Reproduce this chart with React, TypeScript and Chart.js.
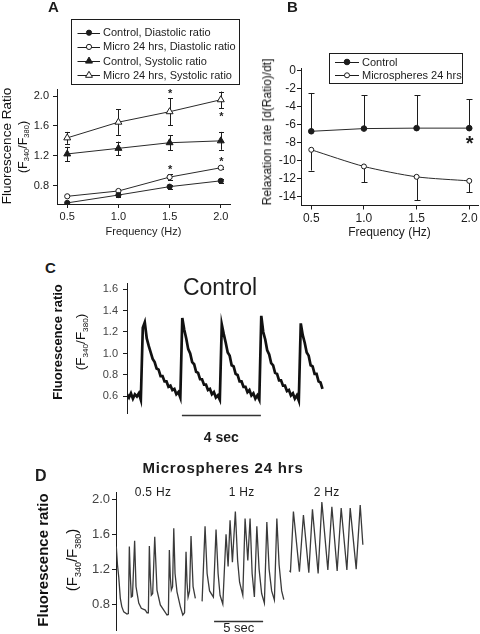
import React, { useEffect, useRef } from "react";
import { Chart, registerables } from "chart.js";
Chart.register(...registerables);

const FONT = "'Liberation Sans', Arial, Helvetica, sans-serif";
const INK = "#1c1c1c";

// ---------------- Panel A ----------------
const A_FREQ = [0.5, 1.0, 1.5, 2.0];
const A_X_TICKS = [0.5, 1.0, 1.5, 2.0];
const A_Y_TICKS = [0.8, 1.2, 1.6, 2.0];
const A_CTRL_DIA = [0.57, 0.675, 0.787, 0.865];
const A_CTRL_DIA_SEM = [0.015, 0.02, 0.025, 0.03];
const A_MICRO_DIA = [0.658, 0.729, 0.915, 1.04];
const A_MICRO_DIA_SEM = [0.01, 0.015, 0.04, 0.015];
const A_CTRL_SYS = [1.225, 1.3, 1.375, 1.4];
const A_CTRL_SYS_SEM = [0.095, 0.09, 0.1, 0.12];
const A_MICRO_SYS = [1.44, 1.65, 1.79, 1.95];
const A_MICRO_SYS_SEM = [0.08, 0.17, 0.18, 0.11];
const A_LABELS = [
  "Control, Diastolic ratio",
  "Micro 24 hrs, Diastolic ratio",
  "Control, Systolic ratio",
  "Micro 24 hrs, Systolic ratio",
];
const A_STAR_X = [1.5, 2.0, 1.5, 2.0];
const A_STAR_Y = [2.065, 1.765, 1.05, 1.16];

// ---------------- Panel B ----------------
const B_FREQ = [0.5, 1.0, 1.5, 2.0];
const B_X_TICKS = [0.5, 1.0, 1.5, 2.0];
const B_Y_TICKS = [0, -2, -4, -6, -8, -10, -12, -14];
const B_CTRL = [-6.75, -6.45, -6.4, -6.4];
const B_CTRL_ERR_TOP = [-2.5, -2.75, -2.75, -3.2];
const B_MICRO = [-8.8, -10.65, -11.8, -12.25];
const B_MICRO_ERR_BOTTOM = [-11.1, -12.4, -14.4, -13.5];
const B_LABELS = ["Control", "Microspheres 24 hrs"];
const B_STAR_X = [2.0];
const B_STAR_Y = [-7.6];

// ---------------- Panel C (control trace, 0.1 s samples) ----------------
const C_Y_TICKS = [0.6, 0.8, 1.0, 1.2, 1.4, 1.6];
const C_DT = 0.1;
const C_RATIO = [
  0.62, 0.59, 0.63, 0.58, 0.62, 0.6, 0.63, 0.57,
  1.24, 1.29, 1.14, 1.07, 1.01, 0.95, 0.92, 0.86, 0.85, 0.79, 0.79, 0.74, 0.74, 0.69, 0.7, 0.66, 0.67, 0.62, 0.64, 0.59,
  1.33, 1.22, 1.14, 1.04, 1.0, 0.92, 0.9, 0.83, 0.82, 0.76, 0.76, 0.71, 0.71, 0.66, 0.67, 0.62, 0.64, 0.59, 0.61, 0.57,
  1.27, 1.18, 1.1, 1.01, 0.98, 0.89, 0.88, 0.81, 0.8, 0.74, 0.74, 0.69, 0.69, 0.64, 0.66, 0.61, 0.63, 0.58, 0.61, 0.57,
  1.35, 1.2, 1.13, 1.03, 0.99, 0.91, 0.89, 0.82, 0.81, 0.75, 0.75, 0.7, 0.7, 0.65, 0.66, 0.61, 0.63, 0.58, 0.61, 0.56,
  1.28, 1.17, 1.1, 1.01, 0.98, 0.89, 0.88, 0.81, 0.81, 0.74, 0.73, 0.67,
];
const C_X_MAX = 10.28;
const C_BAR_START = 2.78;
const C_BAR_LEN = 4;

// ---------------- Panel D (microspheres trace, seconds) ----------------
const D_Y_TICKS = [0.8, 1.2, 1.6, 2.0];
const D_SEG1_T = [0.03, 0.15, 0.28, 0.44, 0.59, 0.79, 1.12, 1.26, 1.36, 1.45, 1.56, 1.68, 1.9, 2.04, 2.32, 2.58, 2.99, 3.16, 3.3, 3.4, 3.5, 3.6, 3.74, 3.95, 4.18, 4.52, 4.87, 5.2, 5.34, 5.44, 5.54, 5.64, 5.77, 5.89, 6.02, 6.22, 6.56, 6.81, 6.99, 7.14, 7.24, 7.35, 7.5, 7.65, 7.86, 8.09];
const D_SEG1_V = [1.46, 1.25, 1.11, 0.865, 0.77, 0.71, 0.685, 0.69, 1.46, 1.15, 0.88, 0.89, 1.525, 1.0, 0.81, 0.75, 0.73, 0.7, 0.7, 1.465, 1.1, 0.9, 0.92, 1.57, 0.96, 0.79, 0.73, 0.674, 0.68, 1.42, 1.1, 0.96, 1.0, 1.668, 1.15, 0.94, 0.77, 0.674, 0.7, 1.4, 1.05, 0.88, 0.95, 1.58, 1.0, 0.865];
const D_SEG2_T = [8.78, 9.08, 9.29, 9.54, 9.93, 10.2, 10.41, 10.61, 10.89, 11.22, 11.43, 11.63, 11.87, 12.17, 12.4, 12.6, 12.93, 13.16, 13.44, 13.67, 13.88, 14.11, 14.36, 14.59, 14.85, 15.13, 15.38, 15.61, 15.87, 16.15, 16.4, 16.63, 16.89, 17.11];
const D_SEG2_V = [0.83, 1.69, 1.15, 0.95, 0.88, 1.655, 1.15, 0.9, 0.8, 1.6, 1.23, 1.76, 1.28, 1.86, 1.3, 1.05, 0.9, 1.78, 1.3, 1.78, 1.15, 0.88, 1.69, 1.2, 0.92, 0.81, 1.74, 1.2, 0.95, 0.846, 1.78, 1.25, 0.95, 0.85];
const D_SEG3_T = [17.68, 17.79, 18.09, 18.7, 19.11, 19.66, 20.03, 20.61, 20.99, 21.6, 22.01, 22.55, 22.96, 23.54, 23.88, 24.49, 24.9, 25.17];
const D_SEG3_V = [1.18, 1.17, 1.86, 1.17, 1.82, 1.16, 1.885, 1.15, 1.97, 1.19, 1.915, 1.18, 1.9, 1.19, 1.9, 1.2, 1.935, 1.48];
const D_X_MAX = 26;
const D_BAR_START = 10;
const D_BAR_LEN = 5;

// ---------------- helpers ----------------
const pts = (xs: number[], ys: number[]) => xs.map((x, i) => ({ x, y: ys[i] }));

function drawMarker(ctx: CanvasRenderingContext2D, style: string, filled: boolean, x: number, y: number, r: number) {
  ctx.beginPath();
  if (style === "triangle") {
    let rad = 0;
    ctx.moveTo(x + Math.sin(rad) * r, y - Math.cos(rad) * r);
    rad += (2 * Math.PI) / 3;
    ctx.lineTo(x + Math.sin(rad) * r, y - Math.cos(rad) * r);
    rad += (2 * Math.PI) / 3;
    ctx.lineTo(x + Math.sin(rad) * r, y - Math.cos(rad) * r);
    ctx.closePath();
  } else {
    ctx.arc(x, y, r, 0, Math.PI * 2);
  }
  ctx.fillStyle = filled ? INK : "#fff";
  ctx.fill();
  ctx.strokeStyle = INK;
  ctx.lineWidth = 1;
  ctx.stroke();
}

type Entry = { label: string; style: string; filled: boolean; r: number };
function boxLegend(box: { x: number; y: number; w: number; h: number; y0: number; dy: number; l0: number; l1: number; mx: number; tx: number; size: number }, entries: Entry[]) {
  return {
    id: "boxLegend",
    afterDraw(chart: any) {
      const ctx = chart.ctx as CanvasRenderingContext2D;
      ctx.save();
      ctx.fillStyle = "#fff";
      ctx.fillRect(box.x, box.y, box.w, box.h);
      ctx.strokeStyle = INK;
      ctx.lineWidth = 1;
      ctx.strokeRect(box.x + 0.5, box.y + 0.5, box.w, box.h);
      entries.forEach((e, i) => {
        const y = box.y0 + i * box.dy;
        ctx.beginPath();
        ctx.strokeStyle = INK;
        ctx.lineWidth = 1;
        ctx.moveTo(box.l0, Math.round(y) + 0.5);
        ctx.lineTo(box.l1, Math.round(y) + 0.5);
        ctx.stroke();
        drawMarker(ctx, e.style, e.filled, box.mx, y, e.r);
        ctx.fillStyle = INK;
        ctx.font = `${box.size}px ${FONT}`;
        ctx.textBaseline = "middle";
        ctx.textAlign = "left";
        ctx.fillText(e.label, box.tx, y + 0.5);
      });
      ctx.restore();
    },
  };
}

type ErrSpec = { xs: number[]; lo: number[]; hi: number[]; capLo: boolean; capHi: boolean };
function errorBars(specs: ErrSpec[], capHalf: number) {
  return {
    id: "errorBars",
    beforeDatasetsDraw(chart: any) {
      const { ctx, scales } = chart;
      const sx = scales.x, sy = scales.y;
      ctx.save();
      ctx.strokeStyle = INK;
      ctx.lineWidth = 1;
      specs.forEach((s) =>
        s.xs.forEach((xv, i) => {
          const px = Math.round(sx.getPixelForValue(xv)) + 0.5;
          const y0 = sy.getPixelForValue(s.lo[i]);
          const y1 = sy.getPixelForValue(s.hi[i]);
          ctx.beginPath();
          ctx.moveTo(px, y0);
          ctx.lineTo(px, y1);
          if (s.capLo) {
            ctx.moveTo(px - capHalf, Math.round(y0) + 0.5);
            ctx.lineTo(px + capHalf, Math.round(y0) + 0.5);
          }
          if (s.capHi) {
            ctx.moveTo(px - capHalf, Math.round(y1) + 0.5);
            ctx.lineTo(px + capHalf, Math.round(y1) + 0.5);
          }
          ctx.stroke();
        })
      );
      ctx.restore();
    },
  };
}

function stars(xs: number[], ys: number[], size: number) {
  return {
    id: "stars",
    afterDatasetsDraw(chart: any) {
      const { ctx, scales } = chart;
      ctx.save();
      ctx.fillStyle = INK;
      ctx.font = `bold ${size}px ${FONT}`;
      ctx.textAlign = "center";
      ctx.textBaseline = "alphabetic";
      xs.forEach((xv, i) => {
        const px = scales.x.getPixelForValue(xv);
        const py = scales.y.getPixelForValue(ys[i]);
        ctx.fillText("*", px + 0.5, py + size * 0.57);
      });
      ctx.restore();
    },
  };
}

function scaleBar(start: number, len: number, dyFromBottom: number) {
  return {
    id: "scaleBar",
    afterDraw(chart: any) {
      const { ctx, chartArea, scales } = chart;
      const x0 = scales.x.getPixelForValue(start);
      const x1 = scales.x.getPixelForValue(start + len);
      const y = Math.round(chartArea.bottom + dyFromBottom) + 0.5;
      ctx.save();
      ctx.strokeStyle = "#333";
      ctx.lineWidth = 1.4;
      ctx.beginPath();
      ctx.moveTo(x0, y);
      ctx.lineTo(x1, y);
      ctx.stroke();
      ctx.restore();
    },
  };
}

function axis(o: {
  min: number; max: number; ticks: number[]; fmt: (v: number) => string; size: number;
  w?: number; h?: number; title?: string; titleSize?: number; pad: number; display?: boolean; color?: string;
}) {
  return {
    type: "linear",
    display: o.display !== false,
    min: o.min,
    max: o.max,
    afterBuildTicks: (s: any) => {
      s.ticks = o.ticks.map((v) => ({ value: v }));
    },
    afterFit: (s: any) => {
      if (o.w !== undefined) s.width = o.w;
      if (o.h !== undefined) s.height = o.h;
    },
    grid: { display: true, drawOnChartArea: false, drawTicks: true, tickLength: 4, color: INK, lineWidth: 1 },
    border: { display: true, color: INK, width: 1 },
    ticks: {
      autoSkip: false,
      maxRotation: 0,
      padding: o.pad,
      color: o.color || INK,
      font: { family: FONT, size: o.size },
      callback: (v: any) => o.fmt(Number(v)),
    },
    title: o.title
      ? { display: true, text: o.title, color: INK, padding: 0, font: { family: FONT, size: o.titleSize || o.size } }
      : { display: false },
  };
}

const base = (padding: any) => ({
  responsive: false,
  maintainAspectRatio: false,
  animation: false,
  devicePixelRatio: 1,
  events: [],
  layout: { padding },
  plugins: { legend: { display: false }, tooltip: { enabled: false } },
});

const f1 = (v: number) => v.toFixed(1);

function Txt(p: { x: number; y: number; size: number; bold?: boolean; center?: boolean; spacing?: number; children: React.ReactNode }) {
  return (
    <div
      style={{
        position: "absolute",
        left: p.x,
        top: p.y - 0.8465 * p.size,
        fontFamily: FONT,
        fontSize: p.size,
        fontWeight: p.bold ? 700 : 400,
        lineHeight: 1,
        whiteSpace: "nowrap",
        letterSpacing: p.spacing || 0,
        color: INK,
        transform: p.center ? "translateX(-50%)" : undefined,
      }}
    >
      {p.children}
    </div>
  );
}

function RotTxt(p: { cx: number; cy: number; size: number; bold?: boolean; children: React.ReactNode }) {
  return (
    <div
      style={{
        position: "absolute",
        left: p.cx,
        top: p.cy,
        transform: "translate(-50%,-50%) rotate(-90deg)",
        fontFamily: FONT,
        fontSize: p.size,
        fontWeight: p.bold ? 700 : 400,
        lineHeight: 1.15,
        whiteSpace: "nowrap",
        color: "#111",
      }}
    >
      {p.children}
    </div>
  );
}

const Sub = ({ children }: { children: React.ReactNode }) => (
  <sub style={{ fontSize: "0.6em", verticalAlign: "-0.35em", lineHeight: 0 }}>{children}</sub>
);

const Ratio = () => (
  <>
    (F<Sub>340</Sub>/F<Sub>380</Sub>)
  </>
);

export default function App() {
  const aRef = useRef<HTMLCanvasElement>(null);
  const bRef = useRef<HTMLCanvasElement>(null);
  const cRef = useRef<HTMLCanvasElement>(null);
  const dRef = useRef<HTMLCanvasElement>(null);

  useEffect(() => {
    const lineStyle = { borderColor: "#2a2a2a", borderWidth: 1, pointBorderColor: INK, pointBorderWidth: 1, tension: 0 };

    // ---- A ----
    const chartA = new Chart(aRef.current!, {
      type: "line",
      data: {
        datasets: [
          { ...lineStyle, label: A_LABELS[0], data: pts(A_FREQ, A_CTRL_DIA), pointStyle: "circle", pointRadius: 2.6, pointBackgroundColor: INK },
          { ...lineStyle, label: A_LABELS[1], data: pts(A_FREQ, A_MICRO_DIA), pointStyle: "circle", pointRadius: 2.6, pointBackgroundColor: "#fff" },
          { ...lineStyle, label: A_LABELS[2], data: pts(A_FREQ, A_CTRL_SYS), pointStyle: "triangle", pointRadius: 4, pointBackgroundColor: INK },
          { ...lineStyle, label: A_LABELS[3], data: pts(A_FREQ, A_MICRO_SYS), pointStyle: "triangle", pointRadius: 4, pointBackgroundColor: "#fff" },
        ],
      } as any,
      options: {
        ...base({ top: 89, right: 12, left: 0, bottom: 0 }),
        scales: {
          x: axis({ min: 0.4, max: 2.09, ticks: A_X_TICKS, fmt: f1, size: 11, h: 35, title: "Frequency (Hz)", pad: 2 }),
          y: axis({ min: 0.555, max: 2.094, ticks: A_Y_TICKS, fmt: f1, size: 11, w: 57, pad: 4 }),
        },
      } as any,
      plugins: [
        errorBars(
          [
            { xs: A_FREQ, lo: A_CTRL_DIA.map((v, i) => v - A_CTRL_DIA_SEM[i]), hi: A_CTRL_DIA.map((v, i) => v + A_CTRL_DIA_SEM[i]), capLo: true, capHi: true },
            { xs: A_FREQ, lo: A_MICRO_DIA.map((v, i) => v - A_MICRO_DIA_SEM[i]), hi: A_MICRO_DIA.map((v, i) => v + A_MICRO_DIA_SEM[i]), capLo: true, capHi: true },
            { xs: A_FREQ, lo: A_CTRL_SYS.map((v, i) => v - A_CTRL_SYS_SEM[i]), hi: A_CTRL_SYS.map((v, i) => v + A_CTRL_SYS_SEM[i]), capLo: true, capHi: true },
            { xs: A_FREQ, lo: A_MICRO_SYS.map((v, i) => v - A_MICRO_SYS_SEM[i]), hi: A_MICRO_SYS.map((v, i) => v + A_MICRO_SYS_SEM[i]), capLo: true, capHi: true },
          ],
          2.5
        ),
        stars(A_STAR_X, A_STAR_Y, 11),
        boxLegend(
          { x: 71, y: 19, w: 168, h: 65, y0: 32.7, dy: 14.2, l0: 77.5, l1: 100, mx: 89, tx: 103, size: 11 },
          [
            { label: A_LABELS[0], style: "circle", filled: true, r: 2.6 },
            { label: A_LABELS[1], style: "circle", filled: false, r: 2.6 },
            { label: A_LABELS[2], style: "triangle", filled: true, r: 4 },
            { label: A_LABELS[3], style: "triangle", filled: false, r: 4 },
          ]
        ),
      ],
    });

    // ---- B ----
    const chartB = new Chart(bRef.current!, {
      type: "line",
      data: {
        datasets: [
          { ...lineStyle, label: B_LABELS[0], data: pts(B_FREQ, B_CTRL), pointStyle: "circle", pointRadius: 2.8, pointBackgroundColor: INK },
          { ...lineStyle, tension: 0.25, label: B_LABELS[1], data: pts(B_FREQ, B_MICRO), pointStyle: "circle", pointRadius: 2.5, pointBackgroundColor: "#fff" },
        ],
      } as any,
      options: {
        ...base({ top: 68, right: 12, left: 0, bottom: 0 }),
        scales: {
          x: axis({ min: 0.4025, max: 2.083, ticks: B_X_TICKS, fmt: f1, size: 12, h: 34.5, title: "Frequency (Hz)", pad: 2 }),
          y: axis({ min: -14.98, max: 0.27, ticks: B_Y_TICKS, fmt: (v) => String(v), size: 12, w: 61, pad: 1 }),
        },
      } as any,
      plugins: [
        errorBars(
          [
            { xs: B_FREQ, lo: B_CTRL, hi: B_CTRL_ERR_TOP, capLo: false, capHi: true },
            { xs: B_FREQ, lo: B_MICRO_ERR_BOTTOM, hi: B_MICRO, capLo: true, capHi: false },
          ],
          3
        ),
        stars(B_STAR_X, B_STAR_Y, 20),
        boxLegend(
          { x: 89, y: 53, w: 133, h: 30, y0: 62, dy: 13.3, l0: 95, l1: 119, mx: 107, tx: 122, size: 11 },
          [
            { label: B_LABELS[0], style: "circle", filled: true, r: 2.8 },
            { label: B_LABELS[1], style: "circle", filled: false, r: 2.5 },
          ]
        ),
      ],
    });

    // ---- C ----
    const chartC = new Chart(cRef.current!, {
      type: "line",
      data: {
        datasets: [
          {
            label: "Control",
            data: C_RATIO.map((v, i) => ({ x: i * C_DT, y: v })),
            borderColor: "#111",
            borderWidth: 2.7,
            pointRadius: 0,
            tension: 0,
            borderJoinStyle: "miter",
          },
        ],
      } as any,
      options: {
        ...base({ top: 13, right: 10, left: 0, bottom: 30 }),
        scales: {
          x: { type: "linear", display: false, min: 0, max: C_X_MAX },
          y: axis({ min: 0.446, max: 1.656, ticks: C_Y_TICKS, fmt: f1, size: 11, w: 67, pad: 5, color: "#444" }),
        },
      } as any,
      plugins: [scaleBar(C_BAR_START, C_BAR_LEN, 2)],
    });

    // ---- D ----
    const dStyle = { borderColor: "#3a3a3a", borderWidth: 1.3, pointRadius: 0, tension: 0 };
    const chartD = new Chart(dRef.current!, {
      type: "line",
      data: {
        datasets: [
          { ...dStyle, label: "0.5 Hz", data: pts(D_SEG1_T, D_SEG1_V) },
          { ...dStyle, label: "1 Hz", data: pts(D_SEG2_T, D_SEG2_V) },
          { ...dStyle, label: "2 Hz", data: pts(D_SEG3_T, D_SEG3_V) },
        ],
      } as any,
      options: {
        ...base({ top: 12, right: 5, left: 0, bottom: 14 }),
        scales: {
          x: { type: "linear", display: false, min: 0, max: D_X_MAX },
          y: axis({ min: 0.502, max: 2.084, ticks: D_Y_TICKS, fmt: f1, size: 13, w: 86, pad: 2, color: "#444" }),
        },
      } as any,
      plugins: [scaleBar(D_BAR_START, D_BAR_LEN, -9.3)],
    });

    return () => {
      chartA.destroy();
      chartB.destroy();
      chartC.destroy();
      chartD.destroy();
    };
  }, []);

  const cv = (l: number, t: number, w: number, h: number) => ({
    position: "absolute" as const,
    left: l,
    top: t,
    width: w,
    height: h,
  });

  return (
    <div style={{ position: "absolute", left: 0, top: 0, width: 480, height: 634, overflow: "hidden", background: "#fff" }}>
      <canvas ref={aRef} width={242} height={239} style={cv(0, 0, 242, 239)} />
      <canvas ref={bRef} width={250} height={240} style={cv(240, 0, 250, 240)} />
      <canvas ref={cRef} width={280} height={173} style={cv(60, 270, 280, 173)} />
      <canvas ref={dRef} width={346} height={164} style={cv(30, 480, 346, 164)} />

      <Txt x={48} y={12} size={15} bold>A</Txt>
      <Txt x={287} y={12} size={15} bold>B</Txt>
      <Txt x={45} y={273} size={15} bold>C</Txt>
      <Txt x={35} y={482} size={16} bold>D</Txt>

      <RotTxt cx={6.5} cy={146} size={13.5}>Fluorescence Ratio</RotTxt>
      <RotTxt cx={23} cy={147} size={12.5}><Ratio /></RotTxt>
      <RotTxt cx={268} cy={132} size={12}>Relaxation rate [d(Ratio)/dt]</RotTxt>

      <Txt x={220} y={295} size={23} center>Control</Txt>
      <RotTxt cx={58} cy={342} size={13} bold>Fluorescence ratio</RotTxt>
      <RotTxt cx={81} cy={342} size={13.5}><Ratio /></RotTxt>
      <Txt x={221.4} y={441.7} size={14} bold center>4 sec</Txt>

      <Txt x={223} y={473} size={15} bold center spacing={0.8}>Microspheres 24 hrs</Txt>
      <Txt x={153} y={496.5} size={12} center spacing={0.3}>0.5 Hz</Txt>
      <Txt x={241.7} y={496.5} size={12} center spacing={0.3}>1 Hz</Txt>
      <Txt x={326.7} y={496.5} size={12} center spacing={0.3}>2 Hz</Txt>
      <RotTxt cx={43} cy={560} size={15} bold>Fluorescence ratio</RotTxt>
      <RotTxt cx={72} cy={560} size={15}><Ratio /></RotTxt>
      <Txt x={238.8} y={632.5} size={13} center>5 sec</Txt>
    </div>
  );
}
